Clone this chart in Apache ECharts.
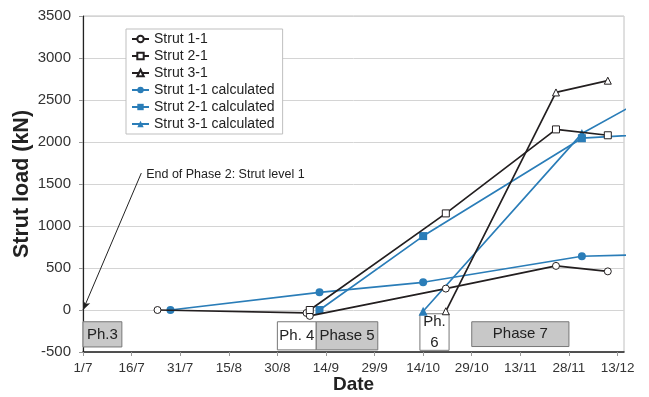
<!DOCTYPE html>
<html>
<head>
<meta charset="utf-8">
<script src="https://cdn.jsdelivr.net/npm/echarts@6/dist/echarts.min.js"></script>
<style>
  html, body { margin: 0; padding: 0; background: #fff; }
  #chart { width: 649px; height: 397px; }
</style>
</head>
<body>
<div id="chart"></div>
<script>
// Measured strut loads (kN), reading dates as d/m
const strut11Dates = ['24/7', '8/9', '9/9', '21/10', '24/11', '10/12'];
const strut11Loads = [0, -35, -70, 255, 525, 460];
const strut21Dates = ['9/9', '21/10', '24/11', '10/12'];
const strut21Loads = [0, 1150, 2150, 2080];
const strut31Dates = ['21/10', '24/11', '10/12'];
const strut31Loads = [-15, 2590, 2730];

// Calculated strut loads (kN)
const calc11Dates = ['28/7', '12/9', '14/10', '2/12', '31/12'];
const calc11Loads = [0, 210, 330, 640, 670];
const calc21Dates = ['12/9', '14/10', '2/12', '31/12'];
const calc21Loads = [0, 880, 2045, 2110];
const calc31Dates = ['14/10', '2/12', '31/12'];
const calc31Loads = [-15, 2100, 2720];

// Construction phases shown along the bottom of the plot
const phaseLabels = ['Ph.3', 'Ph. 4', 'Phase 5', 'Ph.\n6', 'Phase 7'];
const phaseStarts = ['1/7', '30/8', '11/9', '13/10', '29/10'];
const phaseEnds   = ['13/7', '11/9', '30/9', '22/10', '28/11'];
const phaseTops    = [-140, -140, -140, -45, -140];
const phaseBottoms = [-440, -475, -475, -480, -435];

// Axis settings
const axisStart = '1/7';
const axisEnd = '15/12';
const dayStep = 15;
const loadMin = -500, loadMax = 3500, loadStep = 500;

const noteText = 'End of Phase 2: Strut level 1';
const noteFrom = ['19/7', 1630];
const noteTo = ['1/7', 0];
const noteAt = ['20/7', 1615];

const BASE = Date.UTC(2023, 6, 1);
function dayIndex(dm) {
  const [d, m] = dm.split('/').map(Number);
  const y = m < 7 ? 2024 : 2023;
  return Math.round((Date.UTC(y, m - 1, d) - BASE) / 864e5);
}
function dayLabel(n) {
  const t = new Date(BASE + n * 864e5);
  return t.getUTCDate() + '/' + (t.getUTCMonth() + 1);
}
function pairs(dates, vals) {
  return dates.map((d, i) => [dayIndex(d), vals[i]]);
}

const FONT = 'Arial, "Liberation Sans", sans-serif';
const BLACK = '#231f20';
const BLUE = '#2a7db8';

function lineSeries(name, data, color, symbol, size, filled) {
  return {
    name, type: 'line', data, symbol, symbolSize: size,
    showAllSymbol: true, clip: true, silent: true,
    lineStyle: { color, width: 1.7 },
    itemStyle: { color: filled ? color : '#fff', borderColor: color, borderWidth: filled ? 0 : 1 },
    emphasis: { disabled: true },
    z: filled ? 3 : 4
  };
}

const shadedPhase = { 'Ph.3': true, 'Phase 5': true, 'Phase 7': true };
const phaseAreas = phaseLabels.map((lab, i) => [
  {
    name: lab,
    xAxis: dayIndex(phaseStarts[i]), yAxis: phaseTops[i],
    itemStyle: { color: shadedPhase[lab] ? '#c8c8c8' : '#ffffff', borderColor: '#777', borderWidth: 1 }
  },
  { xAxis: dayIndex(phaseEnds[i]), yAxis: phaseBottoms[i] }
]);

const chart = echarts.init(document.getElementById('chart'), null, { renderer: 'canvas' });
chart.setOption({
  animation: false,
  textStyle: { fontFamily: FONT },
  grid: {
    left: 83, right: 25, top: 16, bottom: 45,
    outerBoundsMode: 'none', containLabel: false,
    show: true, borderColor: '#c0c0c0', borderWidth: 1
  },
  legend: {
    data: ['Strut 1-1', 'Strut 2-1', 'Strut 3-1', 'Strut 1-1 calculated', 'Strut 2-1 calculated', 'Strut 3-1 calculated'],
    orient: 'vertical', left: 126, top: 29,
    backgroundColor: '#fff', borderColor: '#bfbfbf', borderWidth: 1,
    padding: [2, 8, 2, 5], itemWidth: 17, itemHeight: 8, itemGap: 1,
    selectedMode: false,
    textStyle: { fontFamily: FONT, fontSize: 14, color: '#222', lineHeight: 16 }
  },
  xAxis: {
    type: 'value', min: dayIndex(axisStart), max: dayIndex(axisEnd), interval: dayStep,
    name: 'Date', nameLocation: 'middle', nameGap: 23, nameMoveOverlap: false,
    nameTextStyle: { fontFamily: FONT, fontSize: 19, fontWeight: 'bold', color: '#222' },
    axisLine: { onZero: false, lineStyle: { color: '#222', width: 1.5 } },
    axisTick: { show: true, length: 4, lineStyle: { color: '#999' } },
    axisLabel: { formatter: dayLabel, showMaxLabel: false, fontSize: 13.5, color: '#333', margin: 9, fontFamily: FONT },
    splitLine: { show: false }
  },
  yAxis: {
    type: 'value', min: loadMin, max: loadMax, interval: loadStep,
    name: 'Strut load (kN)', nameLocation: 'middle', nameGap: 50, nameMoveOverlap: false,
    nameTextStyle: { fontFamily: FONT, fontSize: 21.5, fontWeight: 'bold', color: '#222' },
    axisLine: { show: true, lineStyle: { color: '#222', width: 1.2 } },
    axisTick: { show: true, length: 4, lineStyle: { color: '#999' } },
    axisLabel: { formatter: v => String(v), fontSize: 15, color: '#333', margin: 12, fontFamily: FONT },
    splitLine: { lineStyle: { color: '#d4d4d4' } }
  },
  series: [
    lineSeries('Strut 1-1', pairs(strut11Dates, strut11Loads), BLACK, 'circle', 7, false),
    lineSeries('Strut 2-1', pairs(strut21Dates, strut21Loads), BLACK, 'rect', 7, false),
    lineSeries('Strut 3-1', pairs(strut31Dates, strut31Loads), BLACK, 'triangle', 7, false),
    lineSeries('Strut 1-1 calculated', pairs(calc11Dates, calc11Loads), BLUE, 'circle', 8, true),
    lineSeries('Strut 2-1 calculated', pairs(calc21Dates, calc21Loads), BLUE, 'rect', 8, true),
    lineSeries('Strut 3-1 calculated', pairs(calc31Dates, calc31Loads), BLUE, 'triangle', 9, true),
    {
      name: 'annotations', type: 'line', data: [], silent: true, z: 5,
      markArea: {
        silent: true,
        label: { show: true, position: 'inside', fontFamily: FONT, fontSize: 15, color: '#222', lineHeight: 21 },
        data: phaseAreas
      },
      markLine: {
        silent: true, symbol: ['none', 'arrow'], symbolSize: [6, 9],
        label: { show: false },
        lineStyle: { color: '#222', width: 1, type: 'solid' },
        data: [[
          { coord: [dayIndex(noteFrom[0]), noteFrom[1]] },
          { coord: [dayIndex(noteTo[0]), noteTo[1]] }
        ]]
      },
      markPoint: {
        silent: true,
        data: [{
          coord: [dayIndex(noteAt[0]) + 0.5, noteAt[1]], symbol: 'circle', symbolSize: 0,
          label: { show: true, position: 'right', distance: 0, formatter: noteText, fontFamily: FONT, fontSize: 12.5, color: '#222' }
        }]
      }
    }
  ]
});
</script>
</body>
</html>
